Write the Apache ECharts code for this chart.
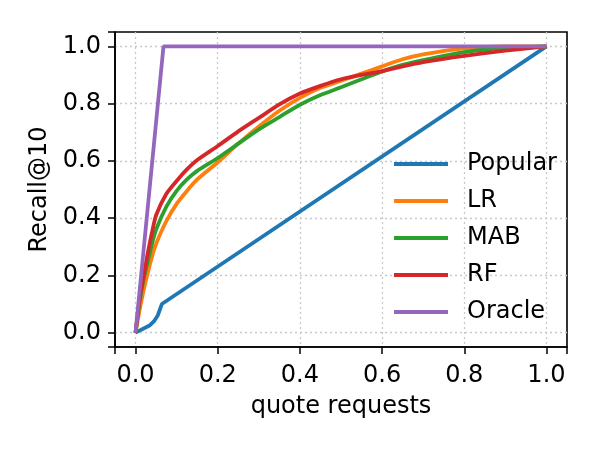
<!DOCTYPE html>
<html>
<head>
<meta charset="utf-8">
<script src="https://cdn.jsdelivr.net/npm/echarts@6/dist/echarts.min.js"></script>
<style>
  html, body { margin: 0; padding: 0; background: #fff; }
  #chart { width: 600px; height: 450px; }
</style>
</head>
<body>
<div id="chart"></div>
<script>
// shared x grid for the model curves
const xs = [0, 0.01, 0.02, 0.03, 0.04, 0.05, 0.075, 0.1, 0.125, 0.15, 0.2, 0.25, 0.3, 0.35, 0.4, 0.45, 0.5, 0.55, 0.6, 0.65, 0.7, 0.8, 0.9, 1.0]
const lrY = [0, 0.08, 0.15, 0.21, 0.265, 0.31, 0.39, 0.45, 0.495, 0.535, 0.595, 0.66, 0.72, 0.775, 0.82, 0.855, 0.88, 0.905, 0.93, 0.955, 0.972, 0.993, 1.0, 1.0]
const mabY = [0, 0.11, 0.19, 0.25, 0.31, 0.36, 0.44, 0.495, 0.535, 0.565, 0.61, 0.66, 0.71, 0.753, 0.796, 0.83, 0.857, 0.885, 0.912, 0.935, 0.952, 0.98, 0.995, 1.0]
const rfY = [0, 0.12, 0.2, 0.28, 0.35, 0.41, 0.485, 0.53, 0.57, 0.603, 0.652, 0.703, 0.75, 0.797, 0.835, 0.862, 0.885, 0.90, 0.913, 0.93, 0.945, 0.967, 0.985, 1.0]

const popularX = [0, 0.034, 0.045, 0.054, 0.064, 1.0]
const popularY = [0, 0.025, 0.04, 0.06, 0.10, 1.0]
const oracleX = [0, 0.068, 1.0]
const oracleY = [0, 1.0, 1.0]

const tickVals = [0, 0.2, 0.4, 0.6, 0.8, 1.0]
const seriesNames = ['Popular', 'LR', 'MAB', 'RF', 'Oracle']
const colors = ['#1f77b4', '#ff7f0e', '#2ca02c', '#d62728', '#9467bd']

const FONT = 'DejaVu Sans'

function pairs(x, y) {
  return x.map((v, i) => [v, y[i]])
}

function makeAxis(extra, labelMargin) {
  return Object.assign({
    type: 'value',
    min: -0.05,
    max: 1.05,
    // pin the nice step to 0.2 so ticks land on 0, 0.2 ... 1.0
    minInterval: 0.2,
    maxInterval: 0.2,
    axisLine: { show: true, onZero: false, lineStyle: { color: '#000', width: 1.6 } },
    axisTick: {
      show: true,
      inside: false,
      length: 7,
      lineStyle: { color: '#000', width: 1.5 }
    },
    axisLabel: {
      customValues: tickVals,
      margin: labelMargin,
      color: '#000',
      fontFamily: FONT,
      fontSize: 24,
      formatter: v => v.toFixed(1)
    },
    splitLine: {
      show: true,
      showMinLine: false,
      showMaxLine: false,
      lineStyle: { color: '#c8c8c8', width: 1.3, type: [2, 3] }
    },
    nameTextStyle: { color: '#000', fontFamily: FONT, fontSize: 24 }
  }, extra)
}

const chart = echarts.init(document.getElementById('chart'))

const lineSeries = (name, data, idx, smooth) => ({
  name: name,
  type: 'line',
  data: data,
  showSymbol: false,
  symbol: 'none',
  smooth: smooth ? 0.2 : false,
  lineStyle: { color: colors[idx], width: 3.8 },
  itemStyle: { color: colors[idx] }
})

chart.setOption({
  animation: false,
  grid: {
    left: 115,
    top: 32,
    right: 33,
    bottom: 103,
    show: true,
    borderColor: '#000',
    borderWidth: 1.6,
    backgroundColor: 'transparent'
  },
  xAxis: makeAxis({
    name: 'quote requests',
    nameLocation: 'middle',
    nameGap: 48
  }, 17),
  yAxis: makeAxis({
    name: 'Recall@10',
    nameLocation: 'middle',
    nameGap: 59
  }, 14),
  legend: {
    data: seriesNames,
    orient: 'vertical',
    left: 389,
    top: 147,
    icon: 'rect',
    itemWidth: 54,
    itemHeight: 4,
    itemGap: 13,
    textStyle: {
      color: '#000',
      fontFamily: FONT,
      fontSize: 24,
      lineHeight: 24,
      padding: [0, 0, 0, 14]
    }
  },
  series: [
    lineSeries('Popular', pairs(popularX, popularY), 0, false),
    lineSeries('LR', pairs(xs, lrY), 1, true),
    lineSeries('MAB', pairs(xs, mabY), 2, true),
    lineSeries('RF', pairs(xs, rfY), 3, true),
    lineSeries('Oracle', pairs(oracleX, oracleY), 4, false)
  ]
})
</script>
</body>
</html>
